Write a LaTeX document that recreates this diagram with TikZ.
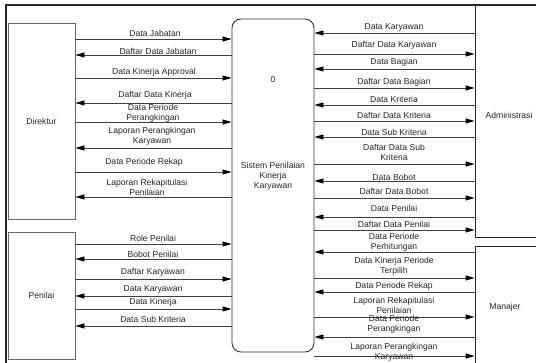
\documentclass[tikz,border=0pt]{standalone}
\usepackage{fontspec}
\setmainfont{Liberation Sans}
\usetikzlibrary{arrows.meta}
\begin{document}
\begin{tikzpicture}[x=1pt,y=-1pt,
  flow/.style={draw=black!75, line width=0.8pt, -{Triangle[length=9pt,width=5pt,fill=black,color=black]}},
  lbl/.style={font=\fontsize{8.6}{10}\selectfont, align=center, text=black!85, inner sep=0pt},
  ext/.style={draw=black!60, line width=0.8pt, inner sep=0pt, font=\fontsize{8.6}{10}\selectfont, text=black!85},
  proc/.style={draw=black!80, line width=0.9pt, rounded corners=9pt, inner sep=0pt}
]
\useasboundingbox (0,0) rectangle (536,363);
\clip (0,0) rectangle (536,363);
\fill[white] (0,0) rectangle (536,363);
% frame
\draw[line width=1.2pt, black!85] (536,5) -- (6,5) -- (6,363);
% boxes
\node[ext, minimum width=67pt, minimum height=196pt] (dir) at (41.5,121) {Direktur};
\node[ext, minimum width=67pt, minimum height=127pt] (pen) at (41.5,295.5) {Penilai};
\node[proc, minimum width=82pt, minimum height=333pt] (sys) at (273,185.5) {};
\node[ext, draw=black!85, minimum width=70pt, minimum height=232pt] (adm) at (510,121) {};
\node[ext, draw=black!85, minimum width=70pt, minimum height=128pt] (man) at (510,310) {};
\node[lbl] (admt) at (509,115) {Administrasi};
\node[lbl] (mant) at (505,307) {Manajer};
\node[lbl] (num) at (273,80) {0};
\node[lbl] (syst) at (273,176) {Sistem Penilaian\\Kinerja\\Karyawan};
% Direktur / Penilai flows
\foreach \y in {39,78,122,172} \draw[flow] (dir.east |- 0,\y) -- (sys.west |- 0,\y);
\foreach \y in {55,103,148,197} \draw[flow] (sys.west |- 0,\y) -- (dir.east |- 0,\y);
\foreach \y in {244,279,309} \draw[flow] (pen.east |- 0,\y) -- (sys.west |- 0,\y);
\foreach \y in {259,296,326} \draw[flow] (sys.west |- 0,\y) -- (pen.east |- 0,\y);
% Administrasi / Manajer flows
\foreach \y in {54,88,121,164,198,230} \draw[flow] (sys.east |- 0,\y) -- (adm.west |- 0,\y);
\foreach \y in {33,69,105,137,181,217} \draw[flow] (adm.west |- 0,\y) -- (sys.east |- 0,\y);
\foreach \y in {278,317,356} \draw[flow] (sys.east |- 0,\y) -- (man.west |- 0,\y);
\foreach \y in {252,292,337} \draw[flow] (man.west |- 0,\y) -- (sys.east |- 0,\y);
% left labels
\node[lbl] at (155,33) {Data Jabatan};
\node[lbl] at (158,51) {Daftar Data Jabatan};
\node[lbl] at (154,72) {Data Kinerja Approval};
\node[lbl] at (155,95) {Daftar Data Kinerja};
\node[lbl] at (153,113) {Data Periode\\Perangkingan};
\node[lbl] at (152,136.5) {Laporan Perangkingan\\Karyawan};
\node[lbl] at (144,162) {Data Periode Rekap};
\node[lbl] at (147,187) {Laporan Rekapitulasi\\Penilaian};
\node[lbl] at (153,238) {Role Penilai};
\node[lbl] at (153,254) {Bobot Penilai};
\node[lbl] at (153,272) {Daftar Karyawan};
\node[lbl] at (153,289) {Data Karyawan};
\node[lbl] at (153,302) {Data Kinerja};
\node[lbl] at (153,319) {Data Sub Kriteria};
% right labels
\node[lbl] at (394,27) {Data Karyawan};
\node[lbl] at (394,45) {Daftar Data Karyawan};
\node[lbl] at (394,62) {Data Bagian};
\node[lbl] at (394,82) {Daftar Data Bagian};
\node[lbl] at (394,99) {Data Kriteria};
\node[lbl] at (394,115) {Daftar Data Kriteria};
\node[lbl] at (394,132) {Data Sub Kriteria};
\node[lbl] at (394,152) {Daftar Data Sub\\Kriteria};
\node[lbl] at (394,177) {Data Bobot};
\node[lbl] at (394,191) {Daftar Data Bobot};
\node[lbl] at (394,208) {Data Penilai};
\node[lbl] at (394,224) {Daftar Data Penilai};
\node[lbl] at (394,242) {Data Periode\\Perhitungan};
\node[lbl] at (394,266) {Data Kinerja Periode\\Terpilih};
\node[lbl] at (394,286) {Data Periode Rekap};
\node[lbl] at (394,305) {Laporan Rekapitulasi\\Penilaian};
\node[lbl] at (394,324) {Data Periode\\Perangkingan};
\node[lbl] at (394,352) {Laporan Perangkingan\\Karyawan};
\end{tikzpicture}
\end{document}
